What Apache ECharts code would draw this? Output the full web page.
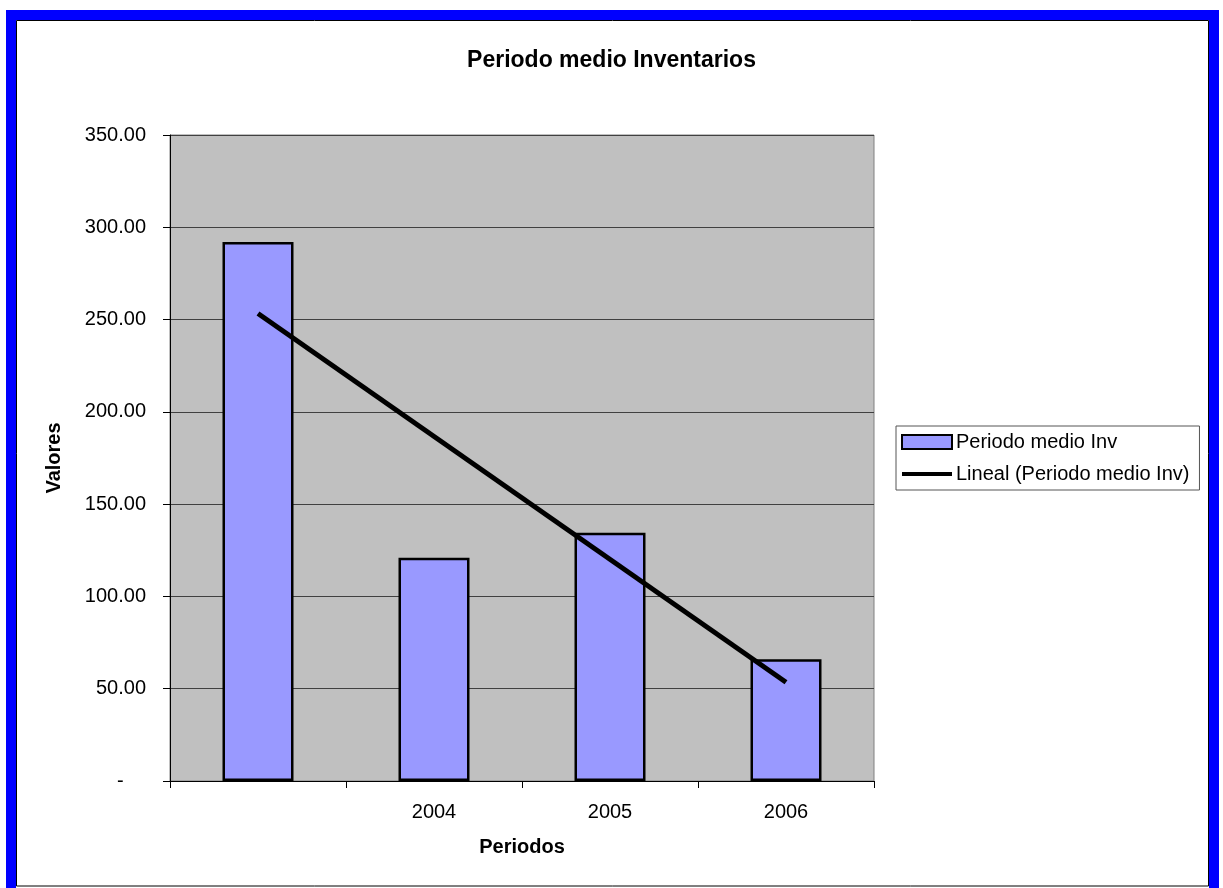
<!DOCTYPE html>
<html>
<head>
<meta charset="utf-8">
<title>Periodo medio Inventarios</title>
<script src="https://cdn.jsdelivr.net/npm/echarts@6/dist/echarts.min.js"></script>
<style>
  html, body { margin: 0; padding: 0; background: #ffffff; }
  #chart { width: 1223px; height: 888px; }
</style>
</head>
<body>
<div id="chart"></div>
<script>
// Categories along the x axis (first period has no label)
const categories = ['', '2004', '2005', '2006'];
// Average inventory period per year
const periodValues = [292, 121, 134.5, 66];
// Linear trend endpoints (first and last period)
const trendValues = [253.3, null, null, 53.5];
// Value axis settings
const yMin = 0;
const yMax = 350;
const yStep = 50;

const barName = 'Periodo medio Inv';
const trendName = 'Lineal (Periodo medio Inv)';

const chart = echarts.init(document.getElementById('chart'), null, { renderer: 'canvas' });

const font = 'Liberation Sans, Arial, sans-serif';

chart.setOption({
  backgroundColor: '#ffffff',
  animation: false,
  textStyle: { fontFamily: font },
  title: {
    text: 'Periodo medio Inventarios',
    left: 'center',
    top: 44,
    textStyle: { fontFamily: font, fontSize: 23, fontWeight: 'bold', color: '#000' }
  },
  graphic: [
    {
      type: 'rect',
      z: -10,
      silent: true,
      shape: { x: 11, y: 15, width: 1203, height: 900 },
      style: { fill: '#ffffff', stroke: '#0000ff', lineWidth: 10 }
    },
    {
      type: 'rect',
      z: -9,
      silent: true,
      shape: { x: 16.5, y: 20.5, width: 1192, height: 865.5 },
      style: { fill: 'none', stroke: '#000000', lineWidth: 1 }
    }
  ],
  legend: {
    orient: 'vertical',
    left: 896,
    top: 426,
    width: 304,
    padding: [6, 10, 6, 5],
    itemGap: 12,
    itemWidth: 50,
    itemHeight: 14,
    backgroundColor: '#ffffff',
    borderColor: '#555555',
    borderWidth: 1,
    textStyle: { fontFamily: font, fontSize: 20, color: '#000', padding: [0, 0, 0, -1] },
    data: [
      { name: barName, icon: 'rect', itemStyle: { color: '#9999ff', borderColor: '#000', borderWidth: 2 } },
      {
        name: trendName,
        icon: 'path://M0,0L50,0L50,4L0,4Z',
        itemStyle: { color: '#000', borderWidth: 0 },
        lineStyle: { width: 0 }
      }
    ]
  },
  grid: {
    left: 170,
    top: 135,
    right: 349,
    bottom: 107,
    show: true,
    backgroundColor: '#c0c0c0',
    borderColor: '#808080',
    borderWidth: 1
  },
  xAxis: {
    type: 'category',
    data: categories,
    boundaryGap: true,
    name: 'Periodos',
    nameLocation: 'middle',
    nameGap: 56,
    nameTextStyle: { fontFamily: font, fontSize: 20, fontWeight: 'bold', color: '#000', verticalAlign: 'top' },
    axisLine: { show: true, lineStyle: { color: '#000', width: 1 } },
    axisTick: { show: true, length: 7, interval: 0, lineStyle: { color: '#000' } },
    axisLabel: { fontFamily: font, fontSize: 20, color: '#000', margin: 21, interval: 0 },
    splitLine: { show: false }
  },
  yAxis: {
    type: 'value',
    min: yMin,
    max: yMax,
    interval: yStep,
    name: 'Valores',
    nameLocation: 'middle',
    nameGap: 106,
    nameRotate: 90,
    nameTextStyle: { fontFamily: font, fontSize: 20, fontWeight: 'bold', color: '#000' },
    axisLine: { show: true, lineStyle: { color: '#000', width: 1 } },
    axisTick: { show: true, length: 7, inside: false, lineStyle: { color: '#000' } },
    axisLabel: {
      fontFamily: font,
      fontSize: 20,
      color: '#000',
      margin: 24,
      formatter: function (v) { return v === 0 ? '-    ' : v.toFixed(2); }
    },
    splitLine: { show: true, lineStyle: { color: '#404040', width: 1 } }
  },
  series: [
    {
      name: barName,
      type: 'bar',
      data: periodValues,
      barWidth: 71,
      itemStyle: { color: '#9999ff', borderColor: '#000000', borderWidth: 2.5 },
      z: 2
    },
    {
      name: trendName,
      type: 'line',
      data: trendValues,
      connectNulls: true,
      symbol: 'none',
      showSymbol: false,
      lineStyle: { color: '#000000', width: 5 },
      itemStyle: { color: '#000000' },
      z: 3
    }
  ]
});
</script>
</body>
</html>
